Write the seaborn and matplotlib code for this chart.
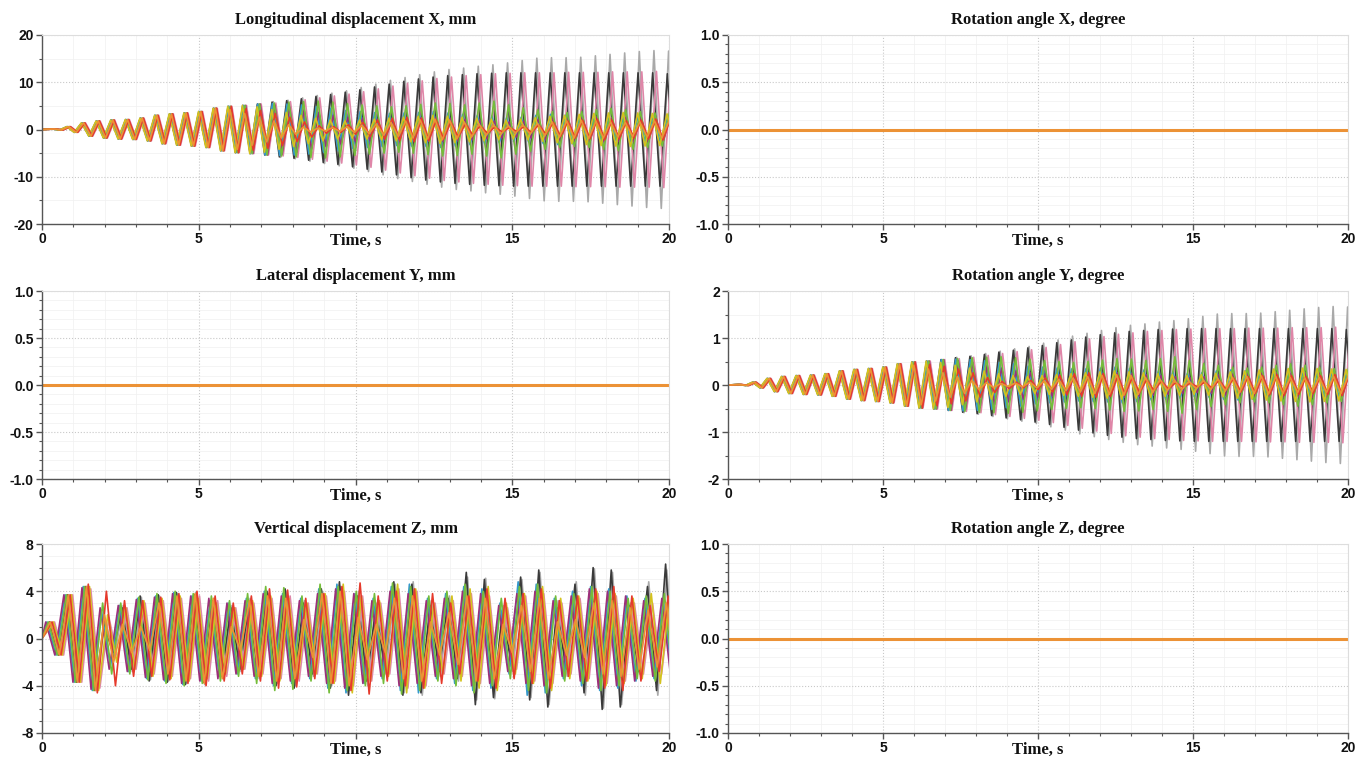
import matplotlib
matplotlib.use("Agg")
import matplotlib.pyplot as plt
from matplotlib.ticker import MultipleLocator, FormatStrFormatter
import pandas as pd
import seaborn as sns

# ---- data ----
# X / rotation-Y waveforms: one amplitude per oscillation cycle (peak, then trough of same size)
X_FIRST_PEAK = 0.373   # s
X_PERIOD = 0.467       # s
X_SHARED = [0.1, 0.6, 1.4, 1.8, 2.0, 2.1, 2.4, 3.0, 3.3, 3.5, 3.8, 4.5, 4.9, 5.1, 5.4]

x_grey = X_SHARED + [5.9, 6.2, 6.7, 7.2, 7.7, 8.2, 8.9, 9.6, 10.4, 11.0, 11.6, 12.2, 12.7, 13.0,
                     13.4, 13.7, 14.1, 14.6, 15.1, 15.2, 15.2, 15.3, 15.6, 15.9, 16.2, 16.5, 16.7, 16.6]
x_black = X_SHARED + [5.8, 6.1, 6.5, 7.0, 7.4, 7.9, 8.4, 9.0, 9.6, 10.2, 10.7, 11.1, 11.4, 11.6,
                      11.8, 11.9, 12.0, 12.0, 12.0, 12.0, 12.0, 12.0, 12.0, 12.0, 12.0, 12.0, 12.0, 11.8]
x_pink = X_SHARED + [5.6, 5.9, 6.3, 6.7, 7.1, 7.5, 8.0, 8.6, 9.2, 9.8, 10.3, 10.8, 11.1, 11.4,
                     11.6, 11.8, 11.9, 12.0, 12.0, 12.0, 12.1, 12.1, 12.1, 12.2, 12.2, 12.2, 12.3, 12.3]
x_green = X_SHARED + [5.6, 5.8, 5.9, 6.0, 5.8, 5.5, 5.2, 5.0, 4.8, 5.0, 5.3, 5.6, 5.5, 5.2,
                      5.6, 6.0, 5.2, 4.6, 4.2, 3.8, 3.6, 3.8, 4.2, 4.5, 4.2, 3.8, 3.5, 3.6]
x_teal = X_SHARED + [5.5, 5.4, 5.2, 4.8, 4.5, 4.0, 3.8, 3.6, 3.4, 3.5, 3.6, 3.8, 3.5, 3.2,
                     3.0, 2.8, 2.5, 2.6, 3.0, 3.2, 3.0, 2.8, 2.6, 2.5, 2.8, 3.0, 2.8, 2.6]
x_purple = X_SHARED + [5.2, 4.8, 4.2, 3.6, 3.0, 2.6, 2.4, 2.2, 2.0, 2.2, 2.5, 2.6, 2.4, 2.2,
                       2.0, 1.8, 1.6, 1.8, 2.2, 2.5, 2.6, 2.8, 2.7, 2.5, 2.6, 2.8, 2.9, 2.8]
x_yellow = X_SHARED[:14] + [4.8, 4.2, 3.6, 3.0, 2.4, 2.0, 1.8, 2.0, 2.2, 2.4, 2.6, 2.8, 3.0, 2.8,
                            2.6, 2.4, 2.2, 2.0, 2.2, 2.5, 2.8, 3.0, 3.2, 3.4, 3.5, 3.6, 3.5, 3.4, 3.3]
x_red = X_SHARED[:13] + [4.4, 4.0, 3.4, 2.6, 1.6, 0.8, 0.6, 1.0, 1.5, 2.0, 2.4, 2.6, 2.4, 2.0, 1.6,
                         1.2, 0.8, 0.5, 0.4, 0.6, 1.0, 1.5, 1.8, 2.0, 2.2, 2.0, 1.8, 2.0, 2.2, 2.4]
x_orange = X_SHARED[:12] + [4.2, 3.4, 2.6, 1.8, 1.0, 0.5, 0.3, 0.4, 0.6, 0.9, 1.2, 1.5, 1.8, 2.0, 2.2,
                            2.0, 1.6, 1.2, 1.0, 0.8, 1.0, 1.3, 1.6, 1.8, 1.9, 1.8, 1.6, 1.5, 1.6, 1.8, 1.9]

RY_SHARED = [0.01, 0.06, 0.14, 0.18, 0.20, 0.21, 0.24, 0.30, 0.33, 0.35, 0.38, 0.45, 0.49, 0.51, 0.54]
ry_grey = RY_SHARED + [0.59, 0.62, 0.67, 0.72, 0.77, 0.82, 0.89, 0.96, 1.04, 1.10, 1.16, 1.22, 1.27, 1.30,
                       1.34, 1.37, 1.41, 1.46, 1.51, 1.52, 1.52, 1.53, 1.56, 1.59, 1.62, 1.65, 1.67, 1.66]
ry_black = RY_SHARED + [0.58, 0.61, 0.65, 0.70, 0.74, 0.79, 0.84, 0.90, 0.96, 1.02, 1.07, 1.11, 1.14, 1.16,
                        1.18, 1.19, 1.20, 1.20, 1.20, 1.20, 1.20, 1.20, 1.20, 1.20, 1.20, 1.20, 1.20, 1.18]
ry_pink = RY_SHARED + [0.56, 0.59, 0.63, 0.67, 0.71, 0.75, 0.80, 0.86, 0.92, 0.98, 1.03, 1.08, 1.11, 1.14,
                       1.16, 1.18, 1.19, 1.20, 1.20, 1.20, 1.21, 1.21, 1.21, 1.22, 1.22, 1.22, 1.23, 1.23]
ry_green = RY_SHARED + [0.56, 0.58, 0.59, 0.60, 0.58, 0.55, 0.52, 0.50, 0.48, 0.50, 0.53, 0.56, 0.55, 0.52,
                        0.56, 0.60, 0.52, 0.46, 0.42, 0.38, 0.36, 0.38, 0.42, 0.45, 0.42, 0.38, 0.35, 0.36]
ry_teal = RY_SHARED + [0.55, 0.54, 0.52, 0.48, 0.45, 0.40, 0.38, 0.36, 0.34, 0.35, 0.36, 0.38, 0.35, 0.32,
                       0.30, 0.28, 0.25, 0.26, 0.30, 0.32, 0.30, 0.28, 0.26, 0.25, 0.28, 0.30, 0.28, 0.26]
ry_purple = RY_SHARED + [0.52, 0.48, 0.42, 0.36, 0.30, 0.26, 0.24, 0.22, 0.20, 0.22, 0.25, 0.26, 0.24, 0.22,
                         0.20, 0.18, 0.16, 0.18, 0.22, 0.25, 0.26, 0.28, 0.27, 0.25, 0.26, 0.28, 0.29, 0.28]
ry_yellow = RY_SHARED[:14] + [0.48, 0.42, 0.36, 0.30, 0.24, 0.20, 0.18, 0.20, 0.22, 0.24, 0.26, 0.28, 0.30, 0.28,
                              0.26, 0.24, 0.22, 0.20, 0.22, 0.25, 0.28, 0.30, 0.32, 0.34, 0.35, 0.36, 0.35, 0.34, 0.33]
ry_red = RY_SHARED[:13] + [0.44, 0.40, 0.34, 0.26, 0.16, 0.08, 0.06, 0.10, 0.15, 0.20, 0.24, 0.26, 0.24, 0.20, 0.16,
                           0.12, 0.08, 0.05, 0.04, 0.06, 0.10, 0.15, 0.18, 0.20, 0.22, 0.20, 0.18, 0.20, 0.22, 0.24]
ry_orange = RY_SHARED[:12] + [0.42, 0.34, 0.26, 0.18, 0.10, 0.05, 0.03, 0.04, 0.06, 0.09, 0.12, 0.15, 0.18, 0.20, 0.22,
                              0.20, 0.16, 0.12, 0.10, 0.08, 0.10, 0.13, 0.16, 0.18, 0.19, 0.18, 0.16, 0.15, 0.16, 0.18, 0.19]

# Z waveform: one amplitude per cycle, longer period
Z_FIRST_PEAK = 0.24
Z_PERIOD = 0.578
z_black = [1.4, 3.7, 4.4, 1.2, 2.6, 3.6, 3.7, 3.9, 3.7, 3.2, 2.6, 3.0, 4.0, 4.2, 3.0, 4.2, 4.8, 3.6,
           2.6, 4.8, 4.6, 2.8, 3.4, 5.6, 5.0, 2.4, 5.2, 5.8, 2.6, 4.6, 6.0, 5.8, 2.8, 4.4, 6.3]
z_grey = [1.4, 3.7, 4.4, 1.6, 2.8, 3.5, 3.6, 3.8, 3.9, 3.4, 2.8, 3.4, 3.8, 4.0, 3.2, 4.0, 4.4, 4.0,
          3.0, 4.6, 4.8, 3.2, 3.6, 5.2, 5.1, 2.8, 5.0, 5.6, 3.2, 4.8, 5.9, 5.6, 3.0, 4.8, 5.8]
z_pink = [1.4, 3.7, 4.2, 1.8, 2.6, 3.0, 3.2, 3.4, 3.6, 3.2, 2.6, 3.0, 3.4, 3.6, 3.0, 3.6, 4.0, 3.6,
          3.0, 4.2, 4.0, 3.0, 3.2, 3.8, 3.6, 2.6, 3.6, 3.8, 3.0, 3.4, 3.8, 3.6, 3.0, 3.0, 3.4]
z_green = [1.4, 3.7, 4.4, 3.0, 3.0, 3.5, 3.8, 4.0, 3.8, 3.6, 3.2, 3.8, 4.4, 4.3, 3.6, 4.6, 4.4, 4.0,
           3.8, 4.7, 4.4, 3.6, 4.0, 4.6, 4.0, 3.4, 4.4, 4.6, 3.6, 3.8, 4.4, 4.0, 3.4, 3.6, 3.8]
z_teal = [1.4, 3.7, 4.4, 2.4, 2.8, 3.4, 3.6, 3.9, 3.6, 3.2, 3.0, 3.4, 4.0, 3.8, 3.4, 4.2, 4.6, 3.8,
          3.4, 4.4, 4.6, 3.4, 3.8, 4.4, 4.2, 3.0, 4.8, 4.6, 3.4, 4.0, 4.4, 4.2, 3.6, 3.4, 3.2]
z_purple = [1.4, 3.7, 4.3, 2.6, 2.8, 3.3, 3.5, 3.8, 3.6, 3.4, 3.0, 3.2, 3.8, 3.6, 3.2, 3.8, 4.2, 3.8,
            3.2, 4.0, 3.8, 3.2, 3.4, 4.0, 3.8, 2.8, 3.8, 4.0, 3.2, 3.6, 4.2, 4.0, 3.6, 3.2, 3.4]
z_yellow = [1.4, 3.7, 4.4, 2.0, 2.6, 3.2, 3.4, 3.6, 3.4, 3.0, 2.6, 3.2, 3.6, 3.4, 3.0, 3.8, 4.6, 3.6,
            3.2, 4.6, 4.2, 3.0, 3.6, 4.2, 4.4, 3.0, 3.8, 4.4, 3.4, 3.6, 4.0, 3.8, 3.4, 3.8, 3.4]
z_red = [1.4, 3.7, 4.6, 4.0, 3.2, 3.2, 3.5, 3.8, 4.0, 3.6, 3.0, 3.6, 4.2, 4.1, 3.4, 3.8, 4.4, 4.7,
         3.6, 4.0, 4.2, 3.8, 3.0, 3.6, 4.2, 3.4, 3.8, 4.2, 3.2, 3.6, 4.2, 4.4, 3.6, 2.8, 3.6]
z_orange = [1.4, 3.7, 4.4, 2.0, 1.2, 1.0, 3.0, 3.6, 3.8, 3.4, 1.0, 3.2, 3.6, 3.4, 1.6, 3.8, 4.0, 1.8,
            1.2, 3.4, 3.6, 1.4, 2.2, 3.6, 3.4, 1.2, 2.8, 3.4, 1.4, 1.6, 3.0, 3.2, 2.6, 2.4, 3.0]

# phase lag of each run, seconds
X_LAGS = {"grey": 0.0, "black": -0.04, "pink": 0.08, "green": 0.03, "teal": -0.03,
          "purple": 0.05, "yellow": -0.05, "red": 0.06, "orange": 0.02}
Z_LAGS = {"grey": 0.04, "black": 0.0, "pink": 0.16, "green": -0.04, "teal": -0.08,
          "purple": -0.12, "yellow": 0.12, "red": 0.08, "orange": 0.02}

# panels whose response stays at zero
FLAT_TIME = [0.0, 20.0]
FLAT_VALUE = [0.0, 0.0]

SERIES_ORDER = ["grey", "black", "pink", "teal", "purple", "green", "yellow", "red", "orange"]
COLORS = {"grey": "#a9a9a9", "black": "#3a3a3a", "pink": "#df86a8", "teal": "#3399cc",
          "purple": "#9c2f7a", "green": "#74bd3a", "yellow": "#d4c21e", "red": "#e63a2c",
          "orange": "#ec9236"}


def build_frame(amps_by_series, lags, first_peak, period):
    frames = []
    for name, amps in amps_by_series.items():
        times, values = [0.0], [0.0]
        for k, a in enumerate(amps):
            t = first_peak + lags[name] + k * period
            times += [t, t + period / 2]
            values += [a, -a]
        frames.append(pd.DataFrame({"time": times, "value": values, "series": name}))
    return pd.concat(frames, ignore_index=True)


x_df = build_frame({"grey": x_grey, "black": x_black, "pink": x_pink, "green": x_green, "teal": x_teal,
                    "purple": x_purple, "yellow": x_yellow, "red": x_red, "orange": x_orange},
                   X_LAGS, X_FIRST_PEAK, X_PERIOD)
ry_df = build_frame({"grey": ry_grey, "black": ry_black, "pink": ry_pink, "green": ry_green, "teal": ry_teal,
                     "purple": ry_purple, "yellow": ry_yellow, "red": ry_red, "orange": ry_orange},
                    X_LAGS, X_FIRST_PEAK, X_PERIOD)
z_df = build_frame({"grey": z_grey, "black": z_black, "pink": z_pink, "green": z_green, "teal": z_teal,
                    "purple": z_purple, "yellow": z_yellow, "red": z_red, "orange": z_orange},
                   Z_LAGS, Z_FIRST_PEAK, Z_PERIOD)

sns.set_theme(style="white")
plt.rcParams["axes.unicode_minus"] = False
TITLE_FONT = {"family": "Liberation Serif", "weight": "bold", "size": 12}
TICK_FONT = {"family": "Liberation Sans", "weight": "bold", "size": 10}

fig = plt.figure(figsize=(13.57, 7.61), dpi=100)
left_x, right_x = 42 / 1357, 728 / 1357
left_w, right_w = 627 / 1357, 620 / 1357
rows = [(224, 189), (479, 188), (733, 189)]

panels = [
    ("Longitudinal displacement X, mm", x_df, (-20, 20), 10, 5, "%d", 0, 0),
    ("Lateral displacement Y, mm", None, (-1, 1), 0.5, 0.1, "%.1f", 0, 1),
    ("Vertical displacement Z, mm", z_df, (-8, 8), 4, 1, "%d", 0, 2),
    ("Rotation angle X, degree", None, (-1, 1), 0.5, 0.1, "%.1f", 1, 0),
    ("Rotation angle Y, degree", ry_df, (-2, 2), 1, 0.5, "%d", 1, 1),
    ("Rotation angle Z, degree", None, (-1, 1), 0.5, 0.1, "%.1f", 1, 2),
]

for title, df, ylim, major, minor, fmt, col, row in panels:
    bottom_px, height_px = rows[row]
    x0, w = (left_x, left_w) if col == 0 else (right_x, right_w)
    ax = fig.add_axes([x0, 1 - bottom_px / 761, w, height_px / 761])
    if df is not None:
        sns.lineplot(data=df, x="time", y="value", hue="series", hue_order=SERIES_ORDER,
                     palette=COLORS, estimator=None, errorbar=None, legend=False,
                     linewidth=1.2, ax=ax)
        for line in ax.lines:
            line.set_solid_joinstyle("round")
    else:
        sns.lineplot(x=FLAT_TIME, y=FLAT_VALUE, color=COLORS["orange"], linewidth=2.2, ax=ax)

    ax.set_xlim(0, 20)
    ax.set_ylim(*ylim)
    ax.xaxis.set_major_locator(MultipleLocator(5))
    ax.xaxis.set_minor_locator(MultipleLocator(1))
    ax.yaxis.set_major_locator(MultipleLocator(major))
    ax.yaxis.set_minor_locator(MultipleLocator(minor))
    ax.yaxis.set_major_formatter(FormatStrFormatter(fmt))
    ax.set_xticks([0, 5, 10, 15, 20])
    ax.set_xticklabels(["0", "5", "", "15", "20"])
    for lab in ax.get_xticklabels() + ax.get_yticklabels():
        lab.set_fontfamily(TICK_FONT["family"])
        lab.set_fontweight(TICK_FONT["weight"])
        lab.set_fontsize(TICK_FONT["size"])
        lab.set_color("#111111")
    ax.tick_params(which="major", direction="out", length=4, width=1, color="#555555", pad=2,
                   bottom=True, left=True)
    ax.tick_params(which="minor", direction="out", length=2.5, width=0.8, color="#555555",
                   bottom=True, left=True)

    ax.grid(which="major", axis="both", color="#c9c9c9", linestyle=":", linewidth=0.8)
    ax.grid(which="minor", axis="both", color="#f0f0f0", linestyle="-", linewidth=0.5)
    ax.set_axisbelow(True)
    for side in ("left", "bottom"):
        ax.spines[side].set_color("#555555")
        ax.spines[side].set_linewidth(1.0)
    for side in ("top", "right"):
        ax.spines[side].set_color("#dddddd")
        ax.spines[side].set_linewidth(0.8)

    ax.set_title(title, fontdict=TITLE_FONT, pad=8, color="#111111")
    ax.set_xlabel("")
    ax.set_ylabel("")
    ax.text(0.5, -0.045, "Time, s", transform=ax.transAxes, ha="center", va="top",
            fontdict=TITLE_FONT, color="#111111")

fig.savefig("out.png", dpi=100)
plt.close(fig)
